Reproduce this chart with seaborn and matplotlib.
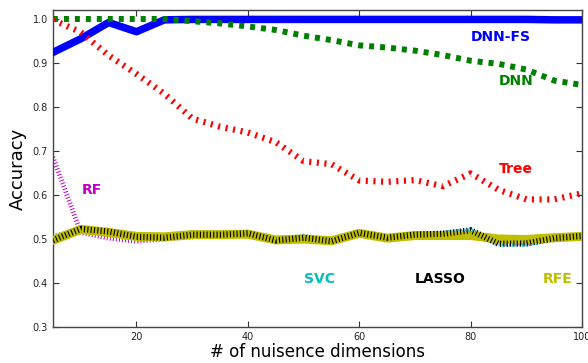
import numpy as np
import pandas as pd
import seaborn as sns
import matplotlib
matplotlib.use("Agg")
import matplotlib.pyplot as plt

# nuisance dimensions on the x axis
dims = [5, 10, 15, 20, 25, 30, 35, 40, 45, 50, 55, 60, 65, 70, 75, 80, 85, 90, 95, 100]

# accuracy per method
dnn_fs = [0.924, 0.955, 0.992, 0.971, 0.998, 0.999, 0.999, 0.999, 0.999, 0.999,
          0.999, 0.999, 0.999, 0.999, 0.999, 0.999, 0.999, 0.999, 0.998, 0.998]
dnn = [1.0, 1.0, 1.0, 1.0, 1.0, 0.995, 0.99, 0.983, 0.975, 0.962,
       0.952, 0.94, 0.935, 0.928, 0.918, 0.905, 0.898, 0.885, 0.86, 0.85]
tree = [0.998, 0.97, 0.917, 0.875, 0.83, 0.774, 0.755, 0.742, 0.72, 0.677,
        0.67, 0.633, 0.63, 0.634, 0.62, 0.649, 0.612, 0.59, 0.59, 0.604]
rf = [0.686, 0.515, 0.502, 0.495, 0.5, 0.505, 0.51, 0.508, 0.497, 0.5,
      0.498, 0.51, 0.5, 0.505, 0.512, 0.515, 0.49, 0.492, 0.505, 0.51]
svc = [0.505, 0.52, 0.515, 0.5, 0.505, 0.512, 0.51, 0.512, 0.496, 0.505,
       0.496, 0.512, 0.502, 0.51, 0.512, 0.518, 0.49, 0.49, 0.5, 0.506]
lasso = [0.497, 0.523, 0.517, 0.505, 0.503, 0.51, 0.51, 0.513, 0.497, 0.503,
         0.495, 0.514, 0.503, 0.51, 0.512, 0.52, 0.489, 0.49, 0.502, 0.507]
rfe = [0.497, 0.522, 0.515, 0.506, 0.505, 0.51, 0.51, 0.511, 0.498, 0.5,
       0.496, 0.513, 0.502, 0.508, 0.508, 0.508, 0.5, 0.499, 0.503, 0.506]

plt.rcParams['lines.scale_dashes'] = False
plt.rcParams['font.family'] = ['DejaVu Sans']

fig = plt.figure(figsize=(5.88, 3.63), dpi=100)
ax = fig.add_axes([0.09, 0.099, 0.9, 0.873])

# (values, colour, linewidth, dashes or None, zorder)
series = [
    (rf, (0.75, 0, 0.75), 3.5, (0.7, 1.5), 2),
    (svc, (0, 0.75, 0.75), 4.5, (0.8, 1.6), 2),
    (rfe, (0.75, 0.75, 0), 6.5, None, 3),
    (lasso, 'black', 4.5, (0.8, 1.6), 4),
    (dnn_fs, 'blue', 5.4, None, 3),
    (dnn, 'green', 4.3, (3.6, 4.3), 4),
    (tree, 'red', 4.5, (1.5, 4.0), 5),
]
for vals, col, lw, dash, z in series:
    sns.lineplot(x=dims, y=vals, color=col, linewidth=lw, ax=ax, zorder=z)
    line = ax.lines[-1]
    if dash is not None:
        line.set_dashes(dash)
        line.set_dash_capstyle('butt')

ax.set_xlim(5, 100)
ax.set_ylim(0.3, 1.02)
ax.set_xticks([20, 40, 60, 80, 100])
ax.set_yticks([0.3, 0.4, 0.5, 0.6, 0.7, 0.8, 0.9, 1.0])
ax.tick_params(direction='in', top=True, right=True, labelsize=7, length=4,
               colors='#333333', labelcolor='#222222')
for s in ax.spines.values():
    s.set_color('#444444')
    s.set_linewidth(1.0)

ax.set_xlabel("# of nuisence dimensions", fontsize=12, labelpad=1)
ax.set_ylabel("Accuracy", fontsize=13)

labels = [("DNN-FS", 80, 0.96, 'blue'), ("DNN", 85, 0.86, 'green'),
          ("Tree", 85, 0.66, 'red'), ("RF", 10.2, 0.612, (0.75, 0, 0.75)),
          ("SVC", 50, 0.409, (0, 0.75, 0.75)), ("LASSO", 70, 0.409, 'black'),
          ("RFE", 93, 0.409, (0.75, 0.75, 0))]
for txt, x, y, col in labels:
    ax.text(x, y, txt, color=col, fontsize=10, fontweight='bold', va='center', ha='left')

fig.savefig("out.png", dpi=100)
